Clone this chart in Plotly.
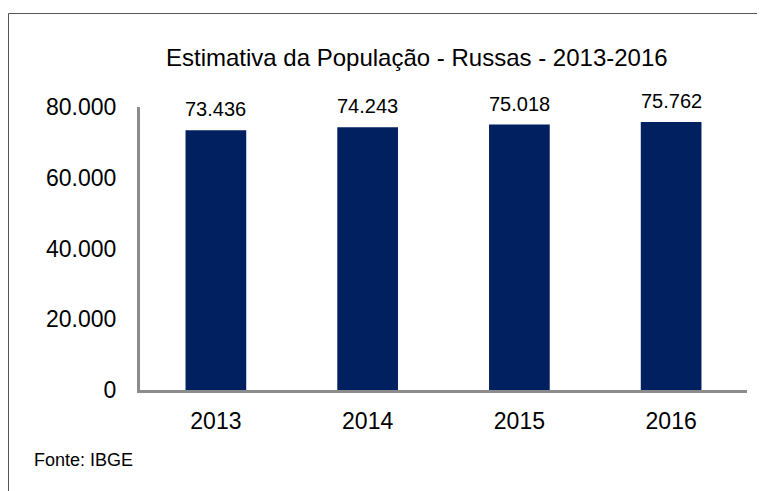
import plotly.graph_objects as go

years = ["2013", "2014", "2015", "2016"]
population = [73436, 74243, 75018, 75762]
labels = ["73.436", "74.243", "75.018", "75.762"]
y_ticks = [0, 20000, 40000, 60000, 80000]
y_tick_text = ["0", "20.000", "40.000", "60.000", "80.000"]

FONT = "Liberation Sans, Arial, sans-serif"

# figure coordinates (page body has an 8px margin)
W, H = 757, 483
L, R, T, B = 132, 18, 99, 101
PW, PH = W - L - R, H - T - B


def px_x(x):
    return (x - L) / PW


def px_y(y):
    return (H - B - y) / PH


fig = go.Figure(go.Bar(
    x=years, y=population,
    marker=dict(color="#002060", line=dict(width=0)),
    width=0.4,
    hoverinfo="x+y",
))

annotations = [
    dict(x=i, y=val, text=lab, xref="x", yref="y",
         xanchor="center", yanchor="bottom", yshift=8, showarrow=False,
         font=dict(family=FONT, size=20, color="#000000"))
    for i, (val, lab) in enumerate(zip(population, labels))
]
annotations += [
    dict(text="Estimativa da População - Russas - 2013-2016",
         xref="paper", yref="paper", x=px_x(416.5 - 8), y=px_y(49),
         xanchor="center", yanchor="middle", showarrow=False,
         font=dict(family=FONT, size=24, color="#000000")),
    dict(text="Fonte: IBGE",
         xref="paper", yref="paper", x=px_x(32 - 8), y=px_y(452),
         xanchor="left", yanchor="middle", showarrow=False,
         font=dict(family=FONT, size=18, color="#000000")),
]

fig.update_layout(
    width=W, height=H,
    margin=dict(l=L, r=R, t=T, b=B),
    paper_bgcolor="white", plot_bgcolor="white",
    showlegend=False,
    font=dict(family=FONT, color="#000000"),
    xaxis=dict(
        type="category", range=[-0.5, len(years) - 0.5],
        showline=True, linecolor="#8c8c8c", linewidth=3,
        showgrid=False, ticks="", tickfont=dict(size=23),
        ticklabelstandoff=8,
    ),
    yaxis=dict(
        range=[0, 80000], tickvals=y_ticks, ticktext=y_tick_text,
        showline=True, linecolor="#8c8c8c", linewidth=3,
        showgrid=False, ticks="", tickfont=dict(size=23),
        ticklabelstandoff=16, zeroline=False,
    ),
    annotations=annotations,
    shapes=[
        dict(type="rect", xref="paper", yref="paper",
             x0=px_x(0.5), x1=px_x(W + 20),
             y0=px_y(H + 20), y1=px_y(5.5),
             line=dict(color="#555555", width=1), fillcolor="rgba(0,0,0,0)",
             layer="below"),
    ],
)

fig.write_html("out.html")
